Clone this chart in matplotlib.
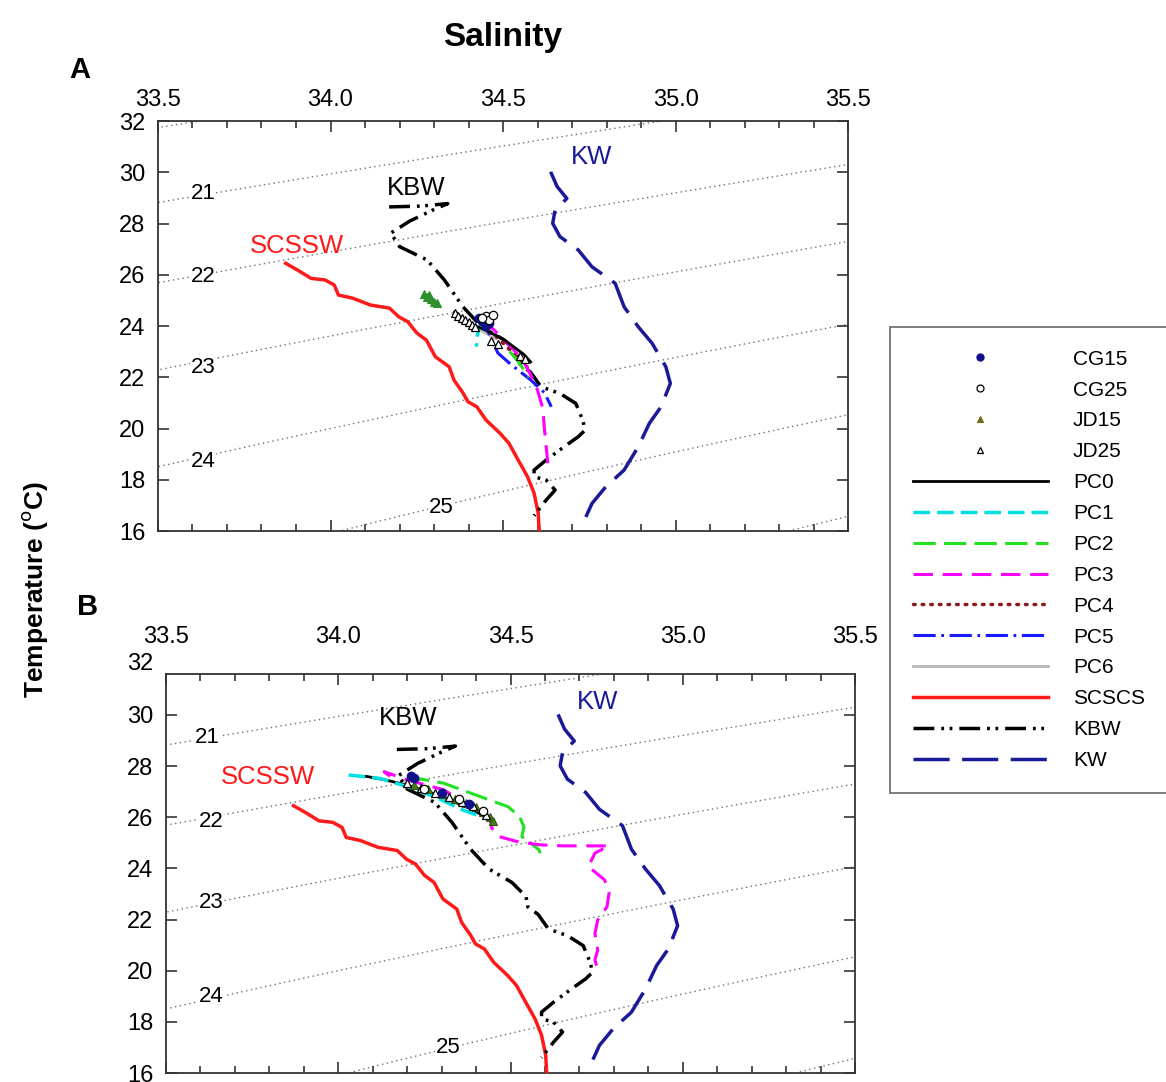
import numpy as np
import matplotlib.pyplot as plt
from matplotlib.lines import Line2D
from matplotlib.ticker import MultipleLocator, FormatStrFormatter
from matplotlib.transforms import blended_transform_factory

plt.rcParams['font.family'] = ['Liberation Sans', 'DejaVu Sans']
plt.rcParams['lines.scale_dashes'] = False

# ---- reference water masses (same in both panels) ----
scssw_s = [33.870, 33.904, 33.944, 33.984, 34.011, 34.023, 34.064, 34.116, 34.171, 34.198,
           34.224, 34.250, 34.278, 34.304, 34.344, 34.358, 34.384, 34.398, 34.424, 34.451,
           34.491, 34.517, 34.544, 34.571, 34.590, 34.602, 34.605]
scssw_t = [26.45, 26.19, 25.86, 25.80, 25.60, 25.21, 25.09, 24.82, 24.70, 24.36,
           24.17, 23.73, 23.45, 22.80, 22.41, 21.89, 21.39, 21.05, 20.85, 20.33,
           19.82, 19.43, 18.77, 18.12, 17.48, 16.70, 16.00]

kbw_s = [34.17, 34.26, 34.34, 34.30, 34.23, 34.175, 34.20, 34.28, 34.33, 34.384, 34.438,
         34.504, 34.545, 34.55, 34.58, 34.61, 34.665, 34.711, 34.731, 34.738, 34.718,
         34.677, 34.625, 34.59, 34.59, 34.625, 34.651, 34.625, 34.59]
kbw_t = [28.65, 28.68, 28.78, 28.55, 28.10, 27.63, 27.10, 26.58, 25.80, 24.75, 23.97,
         23.45, 22.90, 22.50, 22.20, 21.63, 21.37, 20.98, 20.33, 19.94, 19.68,
         19.29, 18.77, 18.38, 18.12, 17.99, 17.60, 17.21, 16.60]

kw_s = [34.638, 34.657, 34.685, 34.651, 34.644, 34.665, 34.718, 34.758, 34.825, 34.851,
        34.892, 34.932, 34.972, 34.985, 34.958, 34.924, 34.892, 34.851, 34.798, 34.758, 34.735]
kw_t = [30.02, 29.44, 28.98, 28.53, 28.01, 27.49, 26.97, 26.31, 25.67, 24.75,
        23.97, 23.33, 22.41, 21.76, 20.85, 20.20, 19.29, 18.38, 17.73, 17.08, 16.40]

# ---- panel A profiles ----
pc0_a_s = [34.36, 34.38, 34.41, 34.44, 34.47, 34.50, 34.53, 34.56, 34.58]
pc0_a_t = [24.55, 24.30, 24.05, 23.90, 23.70, 23.50, 23.20, 22.90, 22.60]
pc1_a_s = [34.44, 34.43, 34.425, 34.42, 34.425]
pc1_a_t = [24.20, 23.90, 23.60, 23.40, 23.20]
pc2_a_s = [34.52, 34.545, 34.56, 34.575]
pc2_a_t = [23.00, 22.60, 22.30, 22.00]
pc3_a_s = [34.44, 34.47, 34.50, 34.53, 34.56, 34.58, 34.60, 34.615, 34.62, 34.625, 34.63]
pc3_a_t = [24.20, 23.90, 23.50, 23.10, 22.60, 22.10, 21.50, 20.80, 20.00, 19.30, 18.65]
pc4_a_s = [34.48, 34.51, 34.54, 34.57]
pc4_a_t = [23.60, 23.20, 22.80, 22.40]
pc5_a_s = [34.42, 34.455, 34.485, 34.523, 34.58, 34.62, 34.64]
pc5_a_t = [24.30, 23.84, 22.95, 22.50, 21.90, 21.40, 20.85]
pc6_a_s = [34.40, 34.44, 34.48]
pc6_a_t = [24.10, 23.80, 23.50]

cg15_a_s = [34.43, 34.44, 34.45, 34.46, 34.45]
cg15_a_t = [24.30, 24.20, 24.35, 24.10, 24.00]
cg25_a_s = [34.45, 34.46, 34.47, 34.44]
cg25_a_t = [24.40, 24.25, 24.45, 24.30]
jd15_a_s = [34.27, 34.28, 34.29, 34.30, 34.31, 34.285]
jd15_a_t = [25.25, 25.15, 25.05, 24.95, 24.90, 25.20]
jd25_a_s = [34.36, 34.37, 34.38, 34.39, 34.40, 34.41, 34.42, 34.465, 34.485, 34.55, 34.565]
jd25_a_t = [24.50, 24.40, 24.30, 24.25, 24.15, 24.05, 23.95, 23.40, 23.30, 22.85, 22.70]

# ---- panel B profiles ----
pc0_b_s = [34.08, 34.14, 34.20, 34.26, 34.32, 34.38, 34.43, 34.45]
pc0_b_t = [27.60, 27.45, 27.25, 27.00, 26.70, 26.35, 26.00, 25.80]
pc1_b_s = [34.03, 34.12, 34.20, 34.28, 34.36, 34.44]
pc1_b_t = [27.65, 27.52, 27.20, 26.80, 26.29, 25.90]
pc2_b_s = [34.20, 34.306, 34.413, 34.493, 34.526, 34.539, 34.533, 34.559, 34.583, 34.586]
pc2_b_t = [27.59, 27.33, 26.80, 26.41, 26.02, 25.63, 25.24, 24.98, 24.72, 24.59]
pc3_b_s = [34.15, 34.133, 34.20, 34.306, 34.386, 34.44, 34.446, 34.467, 34.519, 34.585,
           34.652, 34.786, 34.745, 34.726, 34.773, 34.786, 34.78, 34.753, 34.745, 34.753,
           34.745, 34.753]
pc3_b_t = [27.60, 27.78, 27.46, 27.07, 26.41, 25.96, 25.57, 25.24, 25.05, 24.92,
           24.88, 24.88, 24.60, 24.07, 23.55, 23.04, 22.50, 21.98, 21.46, 20.81,
           20.42, 20.03]

cg15_b_s = [34.21, 34.22, 34.30, 34.38]
cg15_b_t = [27.60, 27.55, 26.95, 26.50]
cg25_b_s = [34.25, 34.35, 34.42]
cg25_b_t = [27.10, 26.70, 26.25]
jd15_b_s = [34.22, 34.26, 34.30, 34.34, 34.37, 34.40, 34.42, 34.44, 34.45]
jd15_b_t = [27.25, 27.10, 26.90, 26.70, 26.55, 26.40, 26.20, 26.00, 25.85]
jd25_b_s = [34.20, 34.24, 34.28, 34.32, 34.36, 34.39, 34.43]
jd25_b_t = [27.35, 27.15, 26.95, 26.80, 26.60, 26.45, 26.10]

# isopycnal labels
sig_levels = [20, 21, 22, 23, 24, 25, 26]
sig_labels = ['21', '22', '23', '24', '25']
sig_a_s = [33.63, 33.63, 33.63, 33.63, 34.32]
sig_a_t = [29.19, 25.95, 22.40, 18.73, 16.90]
sig_b_s = [33.62, 33.63, 33.63, 33.63, 34.32]
sig_b_t = [29.10, 25.84, 22.67, 18.98, 16.98]

styles = {
    'PC0': dict(color='black', lw=2.0, ls='-'),
    'PC1': dict(color='#00e0e0', lw=2.5, dashes=(12, 5)),
    'PC2': dict(color='#22e022', lw=2.2, dashes=(16, 6)),
    'PC3': dict(color='#ff00ff', lw=2.2, dashes=(14, 7)),
    'PC4': dict(color='#8b1a1a', lw=2.5, dashes=(1.2, 5), dash_capstyle='round'),
    'PC5': dict(color='#1a1aff', lw=2.2, dashes=(16, 4, 2, 4)),
    'PC6': dict(color='#b8b8b8', lw=2.0, ls='-'),
    'SCSCS': dict(color='#ff1a1a', lw=2.5, ls='-'),
    'KBW': dict(color='black', lw=2.5, dashes=(15, 5, 2, 4, 2, 5)),
    'KW': dict(color='#1a1a99', lw=2.5, dashes=(26, 9)),
}
mk = {
    'CG15': dict(marker='o', ms=6, mfc='#10108a', mec='#10108a', ls='none'),
    'CG25': dict(marker='o', ms=6, mfc='white', mec='black', mew=0.9, ls='none'),
    'JD15': dict(marker='^', ms=6, mfc='#4d7a1a', mec='#2d5a10', mew=0.8, ls='none'),
    'JD25': dict(marker='^', ms=6, mfc='white', mec='black', mew=0.9, ls='none'),
}


def sigma_t(S, T):
    rw = (999.842594 + 6.793952e-2 * T - 9.095290e-3 * T**2 + 1.001685e-4 * T**3
          - 1.120083e-6 * T**4 + 6.536332e-9 * T**5)
    A = 8.24493e-1 - 4.0899e-3 * T + 7.6438e-5 * T**2 - 8.2467e-7 * T**3 + 5.3875e-9 * T**4
    B = -5.72466e-3 + 1.0227e-4 * T - 1.6546e-6 * T**2
    C = 4.8314e-4
    return rw + A * S + B * S**1.5 + C * S**2 - 1000.0


fig = plt.figure(figsize=(11.66, 10.82), dpi=100)
axA = fig.add_axes([0.1355, 0.5092, 0.5918, 0.3789])
axB = fig.add_axes([0.1424, 0.0083, 0.5909, 0.3688])

SS, TT = np.meshgrid(np.linspace(33.3, 35.7, 200), np.linspace(15, 33, 200))
SIG = sigma_t(SS, TT)

handles = {}


def setup(ax, ytop, xpad, lab_s, lab_t):
    cs = ax.contour(SS, TT, SIG, levels=sig_levels, colors='#707070', linewidths=1.0, zorder=1)
    cs.set_linestyle((0, (1, 2.5)))
    for s, t, lb in zip(lab_s, lab_t, sig_labels):
        ax.text(s, t, lb, fontsize=16, ha='center', va='center', zorder=2,
                bbox=dict(fc='white', ec='none', pad=0.5))
    ax.xaxis.set_major_locator(MultipleLocator(0.5))
    ax.xaxis.set_minor_locator(MultipleLocator(0.1))
    ax.xaxis.set_major_formatter(FormatStrFormatter('%.1f'))
    ax.set_yticks([v for v in range(16, 33, 2) if v <= ytop])
    ax.set_xlim(33.5, 35.5)
    ax.set_ylim(16, ytop)
    ax.tick_params(which='both', direction='in', top=True, bottom=True, left=True, right=True,
                   labelbottom=False, labeltop=True, labelsize=17, width=1.2, color='#333333')
    ax.tick_params(which='major', length=8)
    ax.tick_params(which='minor', length=5)
    ax.tick_params(axis='x', which='major', pad=xpad)
    ax.tick_params(axis='y', pad=9)
    for sp in ax.spines.values():
        sp.set_linewidth(1.3)
        sp.set_color('#333333')


def refs(ax, kw_xy, kbw_xy, scs_xy):
    l, = ax.plot(scssw_s, scssw_t, zorder=3, **styles['SCSCS'])
    handles['SCSCS'] = l
    l, = ax.plot(kbw_s, kbw_t, zorder=3, **styles['KBW'])
    handles['KBW'] = l
    l, = ax.plot(kw_s, kw_t, zorder=3, **styles['KW'])
    handles['KW'] = l
    ax.text(*kw_xy, 'KW', color='#1a1a99', fontsize=18.5, ha='center', va='center')
    ax.text(*kbw_xy, 'KBW', color='black', fontsize=18.5, ha='center', va='center')
    ax.text(*scs_xy, 'SCSSW', color='#ff1a1a', fontsize=18.5, ha='center', va='center')


# ---- panel A ----
setup(axA, 32, 7, sig_a_s, sig_a_t)
refs(axA, (34.756, 30.6), (34.247, 29.39), (33.904, 27.12))
for name, s, t in [('PC6', pc6_a_s, pc6_a_t), ('PC4', pc4_a_s, pc4_a_t),
                   ('PC5', pc5_a_s, pc5_a_t), ('PC2', pc2_a_s, pc2_a_t),
                   ('PC3', pc3_a_s, pc3_a_t), ('PC1', pc1_a_s, pc1_a_t),
                   ('PC0', pc0_a_s, pc0_a_t)]:
    l, = axA.plot(s, t, zorder=4, **styles[name])
    handles[name] = l
for name, s, t in [('JD15', jd15_a_s, jd15_a_t), ('JD25', jd25_a_s, jd25_a_t),
                   ('CG15', cg15_a_s, cg15_a_t), ('CG25', cg25_a_s, cg25_a_t)]:
    l, = axA.plot(s, t, zorder=5, **mk[name])
    handles[name] = l
# green JD15 triangles in panel A are plain green
handles['JD15'].set_markerfacecolor('#2f8f2f')
handles['JD15'].set_markeredgecolor('#2f8f2f')

# ---- panel B ----
setup(axB, 31.6, 19, sig_b_s, sig_b_t)
refs(axB, (34.754, 30.51), (34.202, 29.88), (33.796, 27.58))
for name, s, t in [('PC2', pc2_b_s, pc2_b_t), ('PC3', pc3_b_s, pc3_b_t),
                   ('PC0', pc0_b_s, pc0_b_t), ('PC1', pc1_b_s, pc1_b_t)]:
    axB.plot(s, t, zorder=4, **styles[name])
for name, s, t in [('JD15', jd15_b_s, jd15_b_t), ('JD25', jd25_b_s, jd25_b_t),
                   ('CG15', cg15_b_s, cg15_b_t), ('CG25', cg25_b_s, cg25_b_t)]:
    axB.plot(s, t, zorder=5, **mk[name])
# the 32 label of panel B sits just above the clipped frame
trB = blended_transform_factory(axB.transAxes, axB.transData)
axB.text(-0.018, 32, '32', transform=trB, ha='right', va='center', fontsize=17, clip_on=False)

# ---- figure texts ----
fig.text(0.431, 0.965, 'Salinity', fontsize=24, fontweight='bold', ha='center', va='center')
fig.text(0.0686, 0.935, 'A', fontsize=21, fontweight='bold', ha='center', va='center')
fig.text(0.0755, 0.439, 'B', fontsize=21, fontweight='bold', ha='center', va='center')
fig.text(0.030, 0.455, r'Temperature ($^{\mathrm{o}}$C)', fontsize=19, fontweight='bold',
         rotation=90, ha='center', va='center')

order = ['CG15', 'CG25', 'JD15', 'JD25', 'PC0', 'PC1', 'PC2', 'PC3', 'PC4', 'PC5', 'PC6',
         'SCSCS', 'KBW', 'KW']
leg_handles = []
for name in order:
    if name in mk:
        st = dict(mk[name])
        st['ms'] = 5
        if name == 'JD15':
            st['mfc'] = '#6b6b10'
            st['mec'] = '#6b6b10'
        leg_handles.append(Line2D([], [], **st))
    else:
        leg_handles.append(Line2D([], [], **styles[name]))
leg = fig.legend(leg_handles, order, loc='upper left', bbox_to_anchor=(0.763, 0.698),
                 fontsize=15, handlelength=6.5, handletextpad=1.2, labelspacing=0.57,
                 borderpad=1.1, borderaxespad=0, frameon=True, fancybox=False,
                 edgecolor='#444444', numpoints=1)
leg.get_frame().set_linewidth(1.2)

fig.savefig('out.png', dpi=100, facecolor='white')
